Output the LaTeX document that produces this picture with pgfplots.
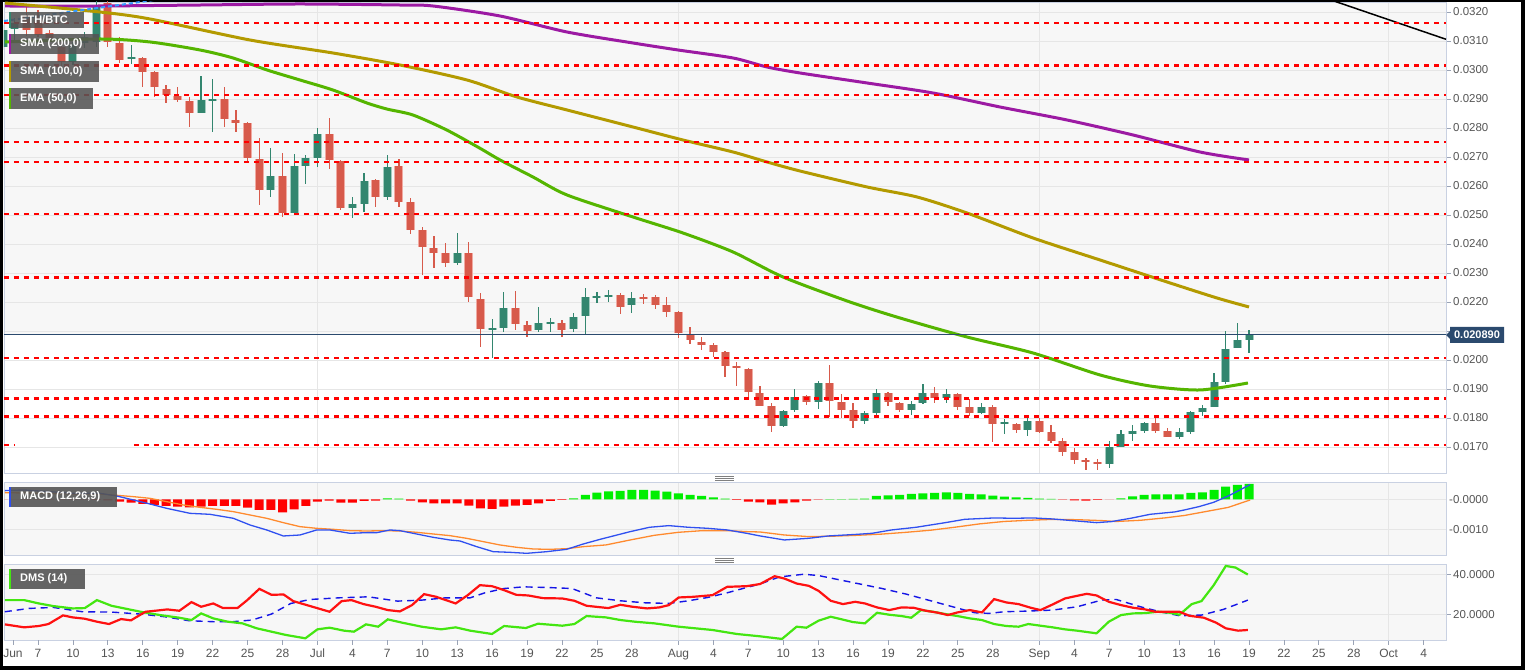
\documentclass[border=0pt]{standalone}
\usepackage{pgfplots}
\pgfplotsset{compat=1.18}
\usepackage{pgfplotstable}
\usepackage{fontspec}
\setmainfont{Liberation Sans}
\definecolor{bgpanel}{HTML}{F7F7F7}
\definecolor{gridc}{HTML}{E6E6E6}
\definecolor{framec}{HTML}{C9D1E2}
\definecolor{candup}{HTML}{33866F}
\definecolor{canddn}{HTML}{D75A4B}
\definecolor{candupL}{HTML}{A3CBBF}
\definecolor{canddnL}{HTML}{F0AAA2}
\definecolor{smaP}{HTML}{9C1AA3}
\definecolor{smaO}{HTML}{B39A00}
\definecolor{emaG}{HTML}{55B500}
\definecolor{lvl}{HTML}{FF0000}
\definecolor{pricec}{HTML}{2B4A6E}
\definecolor{macdB}{HTML}{3050F0}
\definecolor{macdO}{HTML}{FF8A2E}
\definecolor{histG}{HTML}{00EE00}
\definecolor{histR}{HTML}{FF0000}
\definecolor{dmsG}{HTML}{44E611}
\definecolor{dmsR}{HTML}{FF1111}
\definecolor{dmsB}{HTML}{1515E6}
\definecolor{legbg}{HTML}{555555}
\definecolor{labc}{HTML}{555555}
\definecolor{tickc}{HTML}{9AA3B5}
\definecolor{bluetop}{HTML}{3399FF}

\pgfplotstableread{
d o h l c
3 0.030793 0.031552 0.030690 0.031379
4 0.031414 0.031793 0.030931 0.031621
9 0.030276 0.030966 0.030172 0.030862
10 0.030931 0.031310 0.030759 0.031138
11 0.030966 0.032414 0.030793 0.032172
14 0.030379 0.030862 0.030207 0.030448
20 0.028517 0.029793 0.028517 0.028966
21 0.028931 0.029690 0.027862 0.029000
26 0.025862 0.027310 0.025621 0.026345
28 0.025069 0.027103 0.025000 0.026690
29 0.026690 0.027069 0.026069 0.026966
30 0.026966 0.028000 0.026655 0.027793
33 0.025241 0.025621 0.024897 0.025379
34 0.025379 0.026448 0.025103 0.026172
36 0.025621 0.027069 0.025517 0.026655
42 0.023345 0.024379 0.023276 0.023690
45 0.021034 0.021414 0.020069 0.021103
46 0.021103 0.022345 0.020966 0.021793
49 0.021034 0.021828 0.020966 0.021276
50 0.021241 0.021448 0.020966 0.021310
52 0.021069 0.021621 0.020966 0.021483
53 0.021517 0.022483 0.020862 0.022172
54 0.022138 0.022345 0.021966 0.022207
55 0.022172 0.022414 0.022000 0.022241
57 0.021897 0.022345 0.021621 0.022138
70 0.017724 0.018276 0.017690 0.018241
71 0.018276 0.019000 0.018207 0.018724
73 0.018552 0.019276 0.018310 0.019207
77 0.017897 0.018241 0.017793 0.018172
78 0.018172 0.019000 0.018103 0.018862
81 0.018276 0.018586 0.018103 0.018483
82 0.018517 0.019172 0.018483 0.018862
84 0.018690 0.019000 0.018517 0.018828
87 0.018172 0.018517 0.018138 0.018379
89 0.017793 0.017966 0.017448 0.017862
91 0.017586 0.018034 0.017379 0.017897
98 0.016414 0.017207 0.016276 0.017000
99 0.017000 0.017586 0.017000 0.017448
100 0.017448 0.017759 0.017207 0.017552
101 0.017552 0.017862 0.017483 0.017828
104 0.017345 0.017655 0.017276 0.017517
105 0.017517 0.018241 0.017448 0.018207
106 0.018207 0.018448 0.018069 0.018345
107 0.018379 0.019552 0.018379 0.019241
108 0.019241 0.021000 0.019172 0.020379
109 0.020414 0.021276 0.020414 0.020690
110 0.020690 0.021034 0.020241 0.020890
}\bull

\pgfplotstableread{
d o h l c
5 0.031897 0.032172 0.031172 0.031379
6 0.031724 0.032069 0.031138 0.031207
7 0.031276 0.031379 0.030931 0.031103
8 0.030793 0.030966 0.030103 0.030276
12 0.032310 0.032414 0.030793 0.030966
13 0.030931 0.031138 0.030241 0.030345
15 0.030414 0.030448 0.029414 0.029931
16 0.029931 0.029966 0.029069 0.029414
17 0.029345 0.029483 0.028862 0.029138
18 0.029103 0.029414 0.028897 0.028966
19 0.028931 0.029069 0.028034 0.028517
22 0.029000 0.029414 0.028034 0.028310
23 0.028276 0.028621 0.027862 0.028172
24 0.028172 0.028207 0.026828 0.026966
25 0.026931 0.027655 0.025345 0.025862
27 0.026345 0.027138 0.024931 0.025069
31 0.027793 0.028345 0.026586 0.026897
32 0.026862 0.026897 0.025172 0.025241
35 0.026207 0.026241 0.025276 0.025621
37 0.026690 0.026931 0.025276 0.025448
38 0.025448 0.025586 0.024345 0.024483
39 0.024483 0.024586 0.022931 0.023897
40 0.023862 0.024276 0.023172 0.023690
41 0.023690 0.024034 0.023207 0.023345
43 0.023690 0.024069 0.022000 0.022172
44 0.022103 0.022310 0.020448 0.021069
47 0.021793 0.022379 0.021034 0.021241
48 0.021207 0.021345 0.020793 0.021000
51 0.021276 0.021379 0.020793 0.021034
56 0.022241 0.022310 0.021586 0.021828
58 0.022172 0.022276 0.021931 0.022103
59 0.022172 0.022241 0.021759 0.021897
60 0.021897 0.022172 0.021483 0.021655
61 0.021655 0.021690 0.020759 0.020931
62 0.020862 0.021138 0.020552 0.020690
63 0.020621 0.020793 0.020345 0.020517
64 0.020517 0.020586 0.020103 0.020276
65 0.020276 0.020310 0.019414 0.019793
66 0.019793 0.019931 0.019103 0.019724
67 0.019690 0.019724 0.018724 0.018897
68 0.018862 0.019103 0.018414 0.018414
69 0.018414 0.018517 0.017517 0.017724
72 0.018759 0.018793 0.018448 0.018552
74 0.019207 0.019828 0.018034 0.018586
75 0.018552 0.018828 0.018000 0.018276
76 0.018276 0.018517 0.017655 0.017897
79 0.018862 0.018897 0.018414 0.018552
80 0.018517 0.018552 0.018207 0.018276
83 0.018862 0.019069 0.018517 0.018690
85 0.018828 0.018862 0.018276 0.018379
86 0.018379 0.018655 0.018069 0.018172
88 0.018379 0.018448 0.017172 0.017793
90 0.017793 0.017828 0.017483 0.017586
92 0.017897 0.018000 0.017483 0.017517
93 0.017517 0.017759 0.017138 0.017207
94 0.017207 0.017310 0.016690 0.016828
95 0.016828 0.016966 0.016414 0.016552
96 0.016552 0.016621 0.016207 0.016483
97 0.016483 0.016586 0.016207 0.016414
102 0.017828 0.018000 0.017483 0.017552
103 0.017552 0.017655 0.017345 0.017345
}\bear

\pgfplotstableread{
d v
3.17 0.032207
11.32 0.032207
19.91 0.032241
28.50 0.032276
37.09 0.032241
39.92 0.032207
45.68 0.031862
51.43 0.031310
57.10 0.030931
60.96 0.030690
65.69 0.030414
68.61 0.030103
71.44 0.029897
77.20 0.029552
82.86 0.029207
88.62 0.028724
94.37 0.028276
100.04 0.027759
105.79 0.027172
110.0 0.026897
}\smaa

\pgfplotstableread{
d v
3.17 0.032310
11.32 0.032000
15.62 0.031759
24.21 0.031034
31.33 0.030586
37.09 0.030172
42.84 0.029655
47.14 0.029069
51.43 0.028621
57.10 0.028034
61.39 0.027586
65.69 0.027172
68.61 0.026828
71.44 0.026517
77.20 0.025966
81.49 0.025621
85.78 0.025069
91.45 0.024207
97.21 0.023448
102.96 0.022690
107.25 0.022138
110.0 0.021828
}\smab

\pgfplotstableread{
d v
3.17 0.030966
11.32 0.031069
15.62 0.030966
19.91 0.030690
22.75 0.030414
25.67 0.030000
28.50 0.029655
31.33 0.029310
34.25 0.028862
36.00 0.028650
38.20 0.028448
41.10 0.027931
43.96 0.027300
45.68 0.026897
48.51 0.026310
51.43 0.025690
57.10 0.024931
61.39 0.024379
65.69 0.023724
69.98 0.022862
75.73 0.022000
80.03 0.021448
85.78 0.020793
91.45 0.020241
97.21 0.019483
101.50 0.019103
105.79 0.018966
109.91 0.019207
}\ema

\pgfplotstableread{
d h
3 -0.000005
4 -0.000005
5 -0.000008
6 -0.000008
7 -0.000010
8 -0.000010
9 -0.000012
10 -0.000015
11 -0.000020
12 -0.000040
13 -0.000078
14 -0.000111
15 -0.000156
16 -0.000189
17 -0.000222
18 -0.000244
19 -0.000267
20 -0.000244
21 -0.000222
22 -0.000222
23 -0.000222
24 -0.000278
25 -0.000356
26 -0.000356
27 -0.000433
28 -0.000333
29 -0.000222
30 -0.000078
31 -0.000044
32 -0.000111
33 -0.000111
34 -0.000056
35 -0.000044
36 0.000033
37 0.000022
38 -0.000044
39 -0.000100
40 -0.000133
41 -0.000133
42 -0.000133
43 -0.000211
44 -0.000300
45 -0.000322
46 -0.000244
47 -0.000211
48 -0.000189
49 -0.000133
50 -0.000056
51 -0.000022
52 0.000033
53 0.000144
54 0.000222
55 0.000267
56 0.000278
57 0.000311
58 0.000311
59 0.000289
60 0.000256
61 0.000200
62 0.000144
63 0.000111
64 0.000067
65 0.000022
66 -0.000022
67 -0.000078
68 -0.000100
69 -0.000178
70 -0.000133
71 -0.000100
72 -0.000044
73 -0.000011
74 0.000007
75 0.000007
76 0.000011
77 0.000022
78 0.000111
79 0.000133
80 0.000144
81 0.000178
82 0.000200
83 0.000211
84 0.000233
85 0.000211
86 0.000178
87 0.000167
88 0.000122
89 0.000089
90 0.000067
91 0.000044
92 0.000022
93 0.000011
94 -0.000011
95 -0.000033
96 -0.000044
97 -0.000022
98 -0.000007
99 0.000033
100 0.000100
101 0.000144
102 0.000167
103 0.000167
104 0.000167
105 0.000211
106 0.000233
107 0.000311
108 0.000422
109 0.000478
110 0.000511
}\hist

\pgfplotstableread{
d v
3.15 0.000289
4.81 0.000311
8.98 0.000200
11.33 0.000199
12.76 0.000110
14.19 -0.000023
15.62 -0.000157
17.05 -0.000301
19.05 -0.000468
20.77 -0.000501
22.78 -0.000634
24.21 -0.000857
25.64 -0.001023
27.07 -0.001223
28.50 -0.001190
29.93 -0.001023
31.08 -0.001023
32.79 -0.001134
34.23 -0.001112
35.09 -0.001112
36.23 -0.001023
37.09 -0.001046
38.52 -0.001157
39.95 -0.001268
41.38 -0.001357
42.24 -0.001390
43.67 -0.001579
45.10 -0.001746
46.54 -0.001768
47.97 -0.001801
49.69 -0.001746
51.40 -0.001668
52.83 -0.001490
54.27 -0.001335
56.86 -0.001078
58.52 -0.000933
60.18 -0.000878
61.85 -0.000933
63.51 -0.000967
65.18 -0.001022
66.85 -0.001133
68.01 -0.001222
70.10 -0.001356
72.20 -0.001300
73.87 -0.001222
76.39 -0.001167
77.64 -0.001133
79.31 -0.001022
81.41 -0.000933
83.93 -0.000778
85.60 -0.000667
88.11 -0.000622
89.79 -0.000633
91.47 -0.000622
93.14 -0.000656
94.82 -0.000711
96.91 -0.000778
98.17 -0.000744
99.84 -0.000633
101.52 -0.000500
103.61 -0.000422
104.45 -0.000356
105.71 -0.000244
106.97 -0.000100
108.22 0.000111
110.10 0.000489
}\macd

\pgfplotstableread{
d v
3.15 0.000222
8.98 0.000178
11.33 0.000177
14.19 0.000088
15.62 0.000032
17.05 -0.000079
18.48 -0.000190
19.91 -0.000268
21.34 -0.000334
22.78 -0.000412
24.21 -0.000523
25.64 -0.000634
27.07 -0.000779
28.50 -0.000912
29.93 -0.000968
31.36 -0.001001
32.79 -0.001046
34.23 -0.001057
35.66 -0.001046
37.09 -0.001057
38.52 -0.001101
39.95 -0.001157
41.38 -0.001212
42.81 -0.001301
44.25 -0.001412
45.68 -0.001523
47.11 -0.001601
48.54 -0.001657
49.97 -0.001668
51.40 -0.001646
52.83 -0.001579
54.77 -0.001522
56.86 -0.001356
58.94 -0.001200
61.02 -0.001100
63.10 -0.001044
65.18 -0.001044
66.85 -0.001078
68.01 -0.001090
70.10 -0.001190
72.20 -0.001244
74.29 -0.001230
76.39 -0.001200
78.48 -0.001160
80.57 -0.001100
82.67 -0.001030
84.76 -0.000930
86.86 -0.000820
88.95 -0.000740
91.05 -0.000700
93.14 -0.000670
95.24 -0.000680
97.33 -0.000710
98.59 -0.000740
100.68 -0.000700
102.78 -0.000620
104.45 -0.000540
105.71 -0.000450
106.97 -0.000360
108.22 -0.000270
110.10 -0.000022
}\signal

\pgfplotstableread{
d v
3.15 27.17
4.82 27.17
6.07 25.5
7.32 24.17
8.98 23.0
10.02 23.17
11.06 27.17
12.31 24.33
13.56 22.83
14.81 21.33
16.47 19.67
18.14 18.33
19.18 17.17
20.01 20.5
21.05 18.0
22.30 16.33
23.55 15.5
24.80 13.0
26.05 11.33
27.30 9.67
28.96 8.0
30.0 12.5
31.04 13.33
32.29 11.83
33.13 11.33
34.17 15.0
35.21 13.83
36.04 17.5
37.29 15.83
38.95 13.83
40.62 12.5
41.87 13.5
43.12 11.83
44.99 10.17
46.03 14.17
47.9 13.17
48.94 15.33
51.03 14.33
52.07 15.17
53.11 19.17
54.77 18.5
56.02 17.17
57.27 16.33
58.94 15.5
61.02 13.83
63.93 12.17
66.01 10.17
68.01 9.0
69.89 7.67
71.15 13.83
71.99 13.33
73.03 16.83
74.08 18.83
74.92 17.67
75.97 16.17
77.01 15.5
78.06 20.83
79.11 19.83
80.16 19.17
80.99 18.33
81.83 22.17
82.88 21.33
83.93 20.17
84.97 19.17
86.02 18.0
87.07 17.17
88.11 15.17
89.16 14.17
90.21 13.83
91.05 15.17
92.09 14.33
93.14 13.5
94.19 12.5
95.24 11.83
96.91 10.5
97.96 16.33
99.01 19.67
100.05 20.5
101.10 20.67
102.15 21.33
103.20 20.83
104.03 19.83
105.08 25.17
105.92 26.67
106.97 34.67
108.01 44.33
108.85 43.5
109.90 40.0
}\dmsg

\pgfplotstableread{
d v
3.15 15.0
4.82 13.5
6.07 14.17
6.90 15.17
8.15 19.5
8.98 18.5
10.02 17.83
11.06 16.33
12.10 15.17
13.14 17.67
13.98 17.0
15.23 21.33
16.06 21.83
17.10 22.5
18.14 21.83
19.18 26.17
20.01 23.83
21.05 25.5
21.89 23.17
23.13 23.17
23.97 27.17
25.01 32.83
26.05 29.83
27.09 30.0
27.92 26.67
29.38 24.17
31.04 21.33
32.08 26.67
32.92 27.17
33.96 25.17
35.0 23.83
36.04 22.17
37.08 21.5
38.12 24.67
39.16 30.17
40.20 28.83
41.87 25.5
42.91 29.67
43.95 34.67
44.99 34.17
46.03 32.17
47.07 29.83
48.11 29.5
49.36 28.17
51.03 28.0
52.07 26.83
53.11 24.33
54.98 23.17
56.02 24.83
57.06 23.83
58.31 23.0
59.35 23.5
60.18 24.67
61.02 28.5
62.27 28.83
63.93 29.67
65.18 33.83
66.85 34.17
68.01 35.25
69.26 39.17
70.10 38.0
71.15 35.5
72.20 34.33
73.03 31.83
74.08 26.83
75.13 25.17
76.18 26.33
77.01 25.5
78.06 23.5
79.11 22.17
80.16 23.5
81.20 23.33
82.25 21.83
83.30 20.83
84.13 19.67
84.97 21.0
86.02 22.17
87.07 21.0
88.11 27.67
89.16 26.0
90.21 25.17
91.26 23.33
92.09 22.17
93.14 25.0
94.19 28.0
95.24 29.33
96.07 30.33
96.91 29.5
97.96 26.33
99.01 24.67
100.05 23.33
101.10 22.5
101.94 21.33
102.99 21.33
104.03 21.33
104.87 19.33
106.13 18.33
107.18 15.83
108.01 13.0
109.06 11.83
109.90 12.17
}\dmsr

\pgfplotstableread{
d v
3.15 21.33
5.23 23.0
7.32 23.5
9.81 21.33
12.31 21.17
14.81 20.17
16.89 18.83
18.97 16.83
21.05 16.33
22.72 16.33
24.38 17.17
26.05 20.17
27.71 25.5
29.38 27.5
31.88 28.33
34.38 28.83
36.87 26.67
38.95 27.17
41.04 28.33
43.12 28.33
44.37 30.83
46.03 33.0
47.70 33.83
49.78 33.5
51.86 33.0
53.94 28.33
56.02 26.83
58.10 25.83
60.18 25.5
61.85 26.83
63.51 28.5
65.18 30.83
66.85 33.5
68.01 35.25
69.68 38.83
71.78 40.17
73.03 39.5
74.29 38.0
76.39 35.5
78.48 33.0
80.57 30.17
82.67 26.83
84.76 23.5
86.44 20.83
87.70 20.5
88.95 21.33
91.05 21.67
93.14 22.17
95.24 23.83
97.33 27.17
98.59 27.5
100.68 23.83
102.36 21.33
104.03 19.33
105.92 19.67
107.80 22.5
109.90 27.17
}\dmsb

\pgfplotsset{
  panel/.style={
    scale only axis, anchor=south west, width=1442bp,
    xmin=3.08, xmax=126.92,
    scaled y ticks=false, scaled x ticks=false,
    axis line style={draw=framec, line width=0.8bp},
    xmajorgrids, ymajorgrids,
    grid style={draw=gridc, line width=0.9bp},
    ytick pos=right, yticklabel pos=right,
    tick align=outside, major tick length=5bp,
    ytick style={draw=tickc, line width=0.8bp},
    yticklabel style={anchor=west, font=\fontsize{11.5bp}{13bp}\selectfont, text=labc, inner sep=0pt, xshift=2bp},
    xtick={30,61,92,122},
  },
  wick/.style={draw=none, mark=none, forget plot, error bars/.cd, y dir=both, y explicit, error mark=none, error bar style={draw=#1, line width=1.2bp}},
  body/.style 2 args={draw=none, mark=none, forget plot, error bars/.cd, y dir=both, y explicit, error mark=none, error bar style={draw=#1, line width=#2}},
  level/.style={lvl, line width=2.3bp, dash pattern=on 5bp off 5bp, forget plot},
  ma/.style={line width=3bp, smooth, tension=0.45},
}

\begin{document}
\begin{tikzpicture}[x=1bp,y=1bp]
\fill[black] (0bp,0bp) rectangle (1525bp,670bp);
\fill[white] (3bp,4bp) rectangle (1521bp,668bp);
\fill[bgpanel] (4bp,335.82bp) rectangle (1446bp,668bp);

% ---------- main price panel ----------
\begin{axis}[panel, at={(4bp,197bp)}, height=471bp,
  ymin=0.016103, ymax=0.032345,
  xticklabels={}, xtick style={draw=none},
  ytick={0.017,0.018,0.019,0.020,0.021,0.022,0.023,0.024,0.025,0.026,0.027,0.028,0.029,0.030,0.031,0.032},
  yticklabels={0.0170,0.0180,0.0190,0.0200,,0.0220,0.0230,0.0240,0.0250,0.0260,0.0270,0.0280,0.0290,0.0300,0.0310,0.0320},
]
\addplot[wick=candup] table[x=d, y expr={(\thisrow{h}+\thisrow{l})/2}, y error expr={(\thisrow{h}-\thisrow{l})/2}] {\bull};
\addplot[wick=canddn] table[x=d, y expr={(\thisrow{h}+\thisrow{l})/2}, y error expr={(\thisrow{h}-\thisrow{l})/2}] {\bear};
\addplot[body={candupL}{9bp}] table[x=d, y expr={(\thisrow{o}+\thisrow{c})/2}, y error expr={abs(\thisrow{c}-\thisrow{o})/2}] {\bull};
\addplot[body={canddnL}{9bp}] table[x=d, y expr={(\thisrow{o}+\thisrow{c})/2}, y error expr={abs(\thisrow{o}-\thisrow{c})/2}] {\bear};
\addplot[body={candup}{7bp}] table[x=d, y expr={(\thisrow{o}+\thisrow{c})/2}, y error expr={abs(\thisrow{c}-\thisrow{o})/2}] {\bull};
\addplot[body={canddn}{7bp}] table[x=d, y expr={(\thisrow{o}+\thisrow{c})/2}, y error expr={abs(\thisrow{o}-\thisrow{c})/2}] {\bear};

\addplot[smaP, ma] table[x=d,y=v] {\smaa};
\addplot[smaO, ma] table[x=d,y=v] {\smab};
\addplot[emaG, ma] table[x=d,y=v] {\ema};
\addplot[black, line width=1.5bp] coordinates {(116.96,0.032425) (126.92,0.031059)};
\addplot[bluetop, line width=2bp, dash pattern=on 4bp off 3bp] coordinates {(3.08,0.03169) (14.2,0.03231) (16,0.03242)};

\addplot[level] coordinates {(3.08,0.03162) (126.92,0.03162)};
\addplot[level] coordinates {(3.08,0.03015) (126.92,0.03015)};
\addplot[level] coordinates {(3.08,0.02914) (126.92,0.02914)};
\addplot[level] coordinates {(3.08,0.02752) (126.92,0.02752)};
\addplot[level] coordinates {(3.08,0.02683) (126.92,0.02683)};
\addplot[level] coordinates {(3.08,0.02504) (126.92,0.02504)};
\addplot[level, line width=3bp] coordinates {(3.08,0.02285) (126.92,0.02285)};
\addplot[level] coordinates {(3.08,0.02008) (126.92,0.02008)};
\addplot[level] coordinates {(3.08,0.01867) (126.92,0.01867)};
\addplot[level] coordinates {(3.08,0.01805) (126.92,0.01805)};
\addplot[level] coordinates {(3.08,0.01708) (4.05,0.01708)};
\addplot[level] coordinates {(14.24,0.01708) (126.92,0.01708)};
\addplot[pricec, line width=1.2bp] coordinates {(3.08,0.02089) (126.92,0.02089)};
\end{axis}

% ---------- MACD panel ----------
\begin{axis}[panel, at={(4bp,114.7bp)}, height=72.6bp,
  axis background/.style={fill=bgpanel},
  ymin=-0.001867, ymax=0.000553,
  xticklabels={}, xtick style={draw=none},
  ytick={-0.001,0}, yticklabels={-0.0010,-0.0000},
  ytick style={draw=none},
  yticklabel style={xshift=-4bp},
]
\addplot[ybar, bar width=9bp, bar shift=0bp, fill=histR, draw=none, restrict y to domain=-1:0] table[x=d,y=h] {\hist};
\addplot[ybar, bar width=9bp, bar shift=0bp, fill=histG, draw=none, restrict y to domain=0:1] table[x=d,y=h] {\hist};
\addplot[macdO, line width=1.3bp] table[x=d,y=v] {\signal};
\addplot[macdB, line width=1.3bp] table[x=d,y=v] {\macd};
\end{axis}

% ---------- DMS panel ----------
\begin{axis}[panel, at={(4bp,30bp)}, height=75.7bp,
  axis background/.style={fill=bgpanel},
  ymin=7.15, ymax=45.15,
  ytick={20,40}, yticklabels={20.0000,40.0000},
  xticklabels={Jul,Aug,Sep,Oct},
  xtick pos=bottom,
  xtick style={draw=tickc, line width=0.8bp},
  xticklabel style={font=\fontsize{12bp}{14bp}\selectfont, text=labc, anchor=north, inner sep=0pt, yshift=-4bp},
  extra x ticks={3.85,6,9,12,15,18,21,24,27,33,36,39,42,45,48,51,54,57,64,67,70,73,76,79,82,85,88,95,98,101,104,107,110,113,116,119,125},
  extra x tick labels={Jun,7,10,13,16,19,22,25,28,4,7,10,13,16,19,22,25,28,4,7,10,13,16,19,22,25,28,4,7,10,13,16,19,22,25,28,4},
  extra x tick style={grid=none},
]
\addplot[dmsB, line width=1.4bp, dash pattern=on 7bp off 5bp] table[x=d,y=v] {\dmsb};
\addplot[dmsG, line width=2.2bp] table[x=d,y=v] {\dmsg};
\addplot[dmsR, line width=2.2bp] table[x=d,y=v] {\dmsr};
\end{axis}

% ---------- legend boxes ----------
\tikzset{legtxt/.style={anchor=west, text=white, inner sep=0pt, font=\bfseries\fontsize{11bp}{12bp}\selectfont}}
\fill[legbg, opacity=0.88] (10bp,642bp) rectangle (84bp,658bp);
\fill[candup] (9bp,642bp) rectangle (11bp,658bp);
\node[legtxt] at (20bp,650bp) {ETH/BTC};
\fill[legbg, opacity=0.88] (9bp,616bp) rectangle (99bp,636bp);
\fill[smaP] (9bp,616bp) rectangle (11bp,636bp);
\node[legtxt] at (20bp,626bp) {SMA (200,0)};
\fill[legbg, opacity=0.88] (9bp,588bp) rectangle (99bp,609bp);
\fill[smaO] (9bp,588bp) rectangle (11bp,609bp);
\node[legtxt] at (20bp,598.5bp) {SMA (100,0)};
\fill[legbg, opacity=0.88] (9bp,561bp) rectangle (93bp,582bp);
\fill[emaG] (9bp,561bp) rectangle (11bp,582bp);
\node[legtxt] at (20bp,571.5bp) {EMA (50,0)};
\fill[legbg, opacity=0.9] (10bp,163bp) rectangle (117bp,183bp);
\fill[macdB] (9bp,163bp) rectangle (11bp,183bp);
\node[legtxt] at (20bp,173bp) {MACD (12,26,9)};
\fill[legbg, opacity=0.9] (10bp,81bp) rectangle (85bp,101bp);
\fill[dmsG] (9bp,81bp) rectangle (11bp,101bp);
\node[legtxt] at (20bp,91bp) {DMS (14)};

% ---------- price tag ----------
\fill[pricec] (1446bp,335bp) -- (1450bp,339bp) -- (1450bp,343bp) -- (1504bp,343bp) -- (1504bp,327bp) -- (1450bp,327bp) -- (1450bp,331bp) -- cycle;
\node[anchor=center, text=white, inner sep=0pt, font=\bfseries\fontsize{11bp}{13bp}\selectfont] at (1477bp,335bp) {0.020890};

% ---------- panel handles ----------
\draw[gray, line width=0.8bp] (715bp,194bp) -- (734bp,194bp) (715bp,192bp) -- (734bp,192bp) (715bp,190bp) -- (734bp,190bp);
\draw[gray, line width=0.8bp] (715bp,112bp) -- (734bp,112bp) (715bp,110bp) -- (734bp,110bp) (715bp,108bp) -- (734bp,108bp);

\pgfresetboundingbox
\path[use as bounding box] (0bp,0bp) rectangle (1525bp,670bp);
\end{tikzpicture}
\end{document}
